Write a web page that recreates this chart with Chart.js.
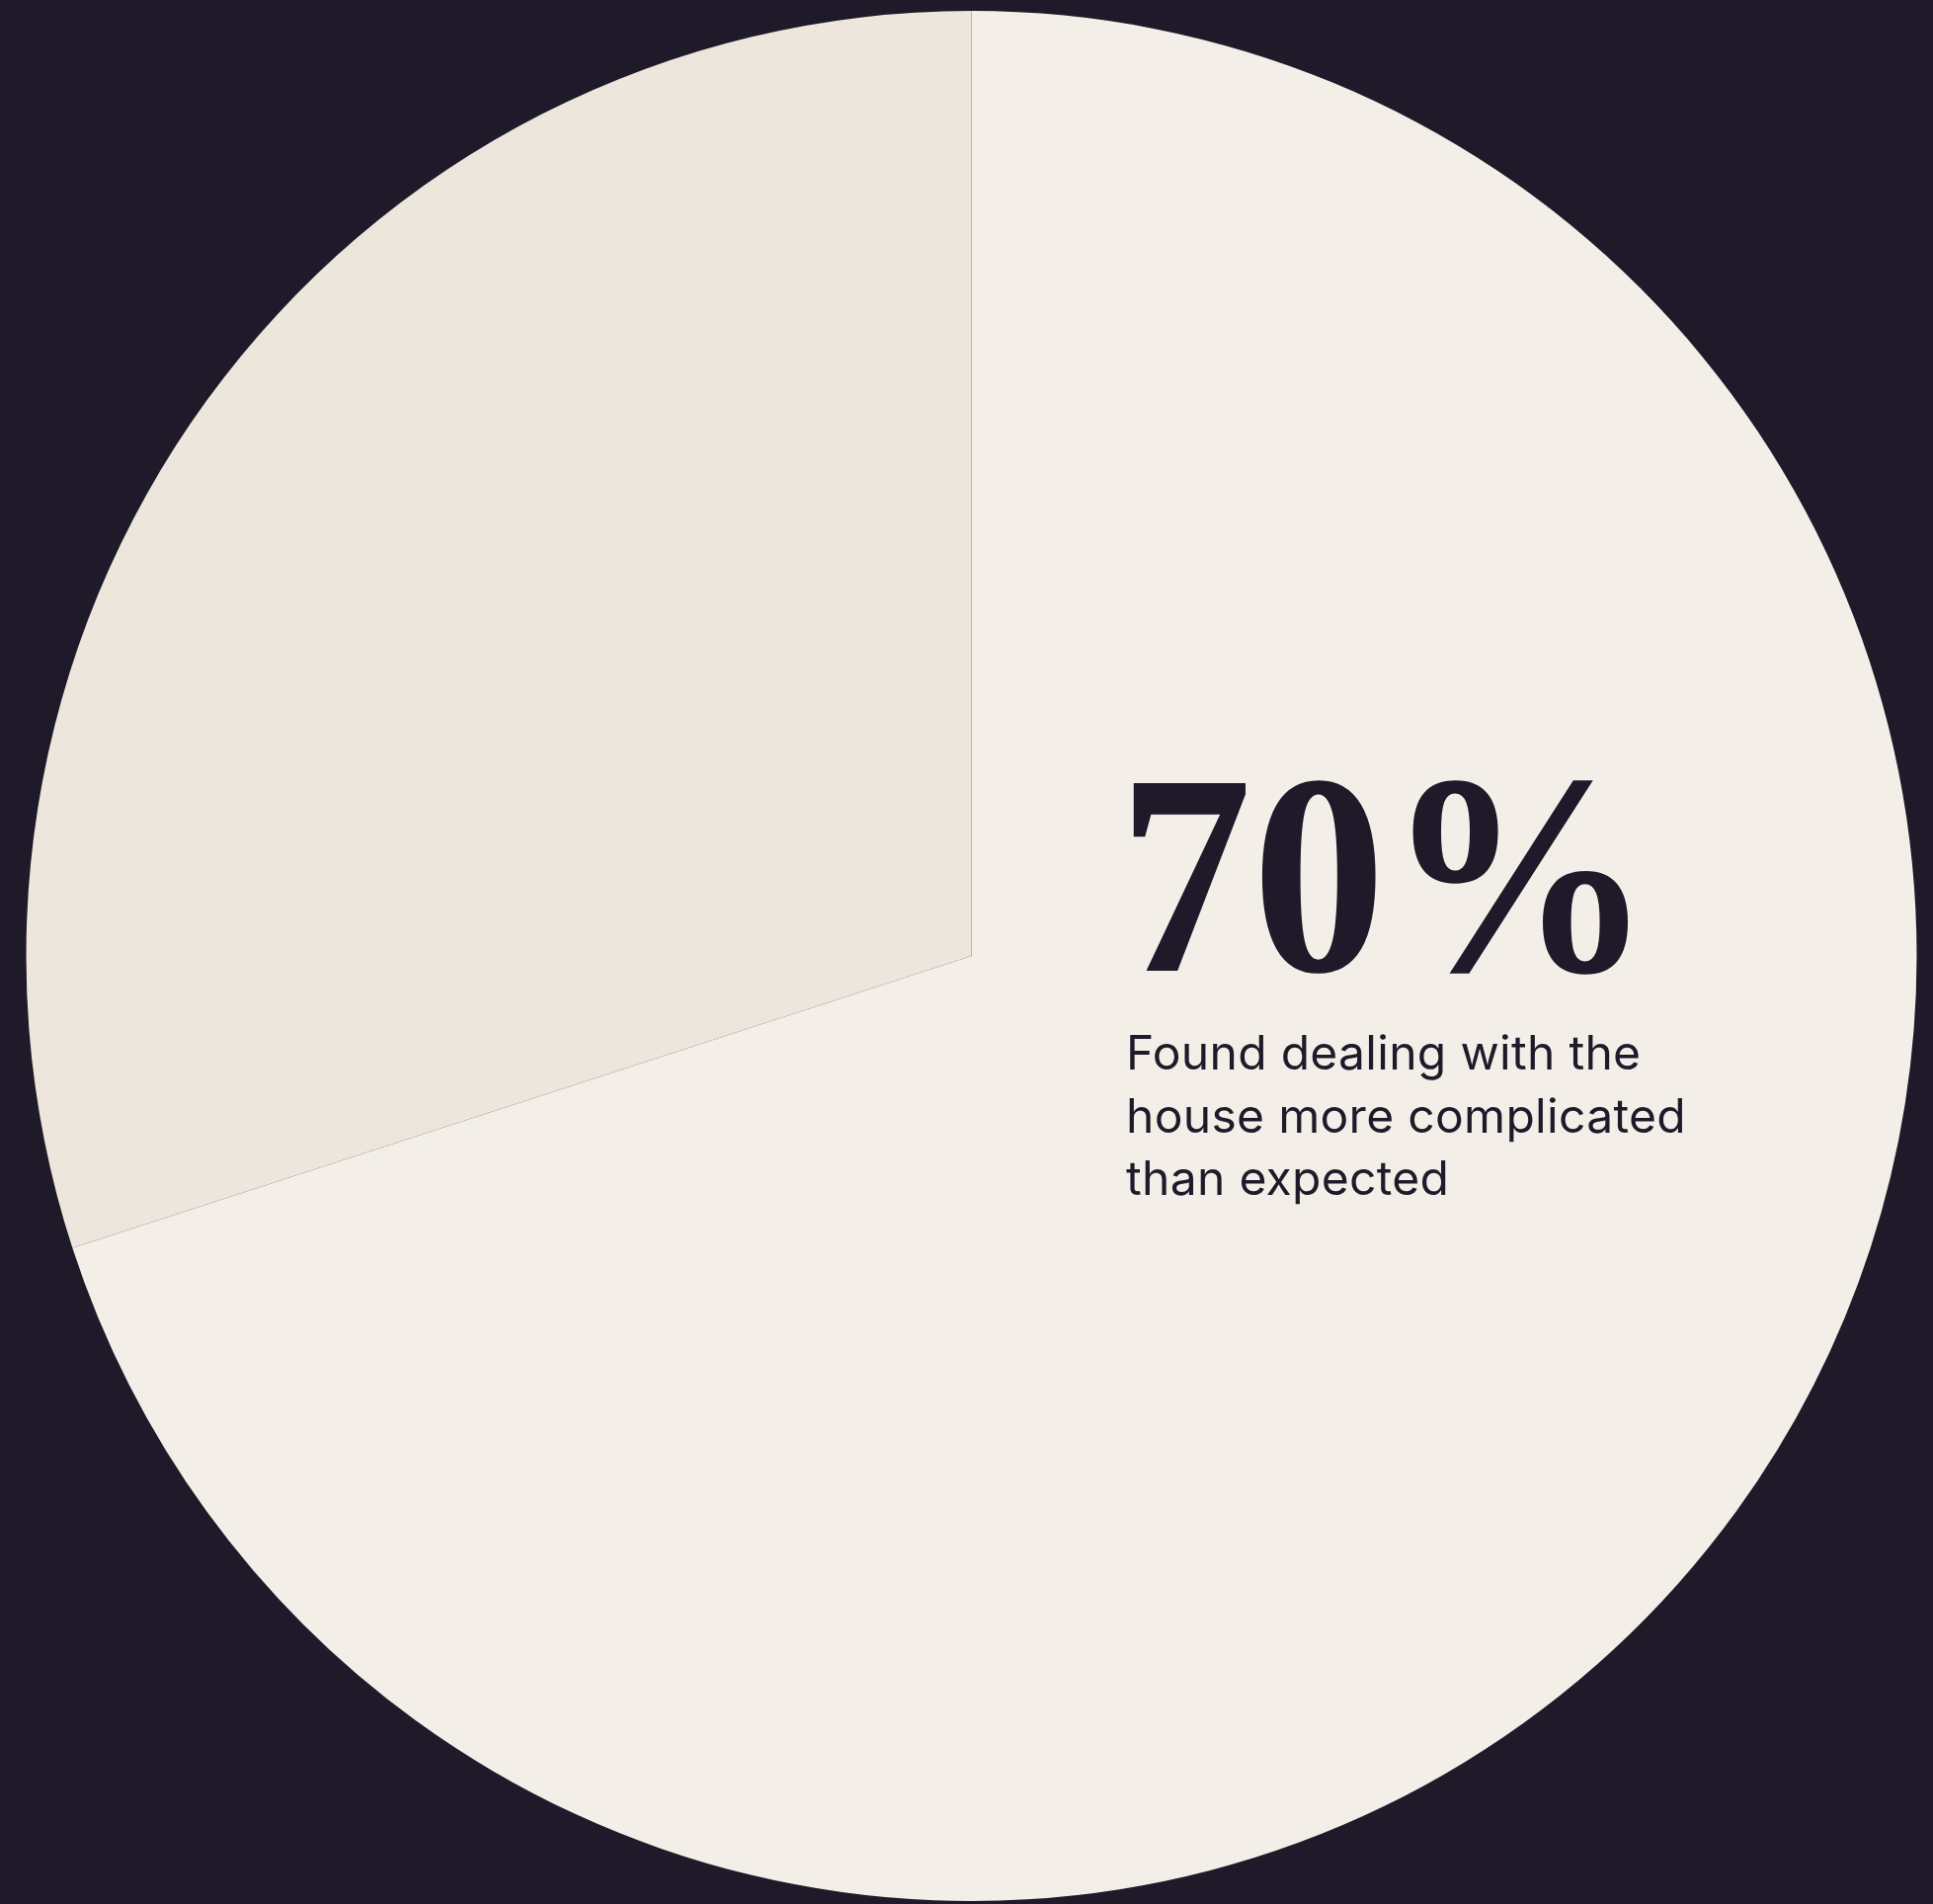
<!DOCTYPE html>
<html>
<head>
<meta charset="utf-8">
<script src="https://cdn.jsdelivr.net/npm/chart.js@4"></script>
<style>
  html, body { margin: 0; padding: 0; background: #1E1A29; }
  #wrap { width: 1957px; height: 1928px; }
</style>
</head>
<body>
<div id="wrap"><canvas id="c" width="1957" height="1928"></canvas></div>
<script>
const categories = ["Found it more complicated than expected", "Did not"];
const values = [70, 30];
const sliceColors = ["#F3EFE8", "#ECE6DC"];
const bigStat = "70%";
const captionLines = ["Found dealing with the", "house more complicated", "than expected"];

const textPlugin = {
  id: 'statText',
  afterDraw(chart) {
    const ctx = chart.ctx;
    ctx.save();
    ctx.fillStyle = '#1E1A29';
    ctx.font = 'bold 290px "Liberation Serif", serif';
    ctx.textBaseline = 'alphabetic';
    const m = ctx.measureText(bigStat);
    const inkW = m.actualBoundingBoxLeft + m.actualBoundingBoxRight;
    const targetW = 503;
    const sx = targetW / inkW;
    ctx.translate(1145, 983);
    ctx.scale(sx, 1);
    ctx.fillText(bigStat, m.actualBoundingBoxLeft, 0);
    ctx.restore();

    ctx.save();
    ctx.fillStyle = '#1E1A29';
    ctx.font = '400 48px Inter, "Noto Sans", sans-serif';
    ctx.textBaseline = 'alphabetic';
    if ('letterSpacing' in ctx) ctx.letterSpacing = '0.3px';
    const base = 1083, lh = 63.5;
    captionLines.forEach((t, i) => {
      ctx.fillText(t, 1140, base + i * lh);
    });
    ctx.restore();
  }
};

new Chart(document.getElementById('c'), {
  type: 'pie',
  data: {
    labels: categories,
    datasets: [{
      data: values,
      backgroundColor: sliceColors,
      borderWidth: 0
    }]
  },
  options: {
    responsive: false,
    animation: false,
    layout: { padding: { left: 26.5, right: 16.5, top: 11, bottom: 3 } },
    plugins: { legend: { display: false }, tooltip: { enabled: false } }
  },
  plugins: [textPlugin]
});
</script>
</body>
</html>
